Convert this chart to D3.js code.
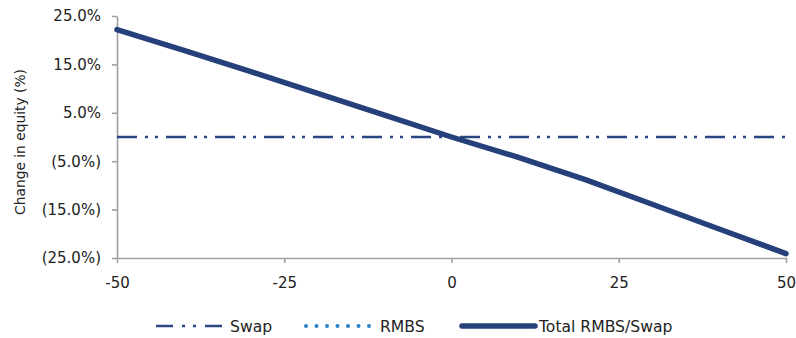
<!DOCTYPE html>
<html lang="en">
<head>
<meta charset="UTF-8" />
<title>Change in equity</title>
<script src="https://d3js.org/d3.v7.min.js"></script>
<style>
  body { margin: 0; background: #fff; }
  text { font-family: "DejaVu Sans", sans-serif; fill: #222; }
</style>
</head>
<body>
<div id="chart"></div>
<script>
var w = 796;
var h = 338;

// rate shock (bp) and change in equity (%)
var shocks = [-50, -40, -30, -20, -10, 0, 10, 20, 30, 40, 50];
var swap = [0, 0, 0, 0, 0, 0, 0, 0, 0, 0, 0];
var rmbs = [22.2, 17.9, 13.5, 9.0, 4.5, 0, -4.2, -8.8, -13.9, -19.0, -24.1];
var total = [22.2, 17.9, 13.5, 9.0, 4.5, 0, -4.2, -8.8, -13.9, -19.0, -24.1];

var xTicks = [-50, -25, 0, 25, 50];
var yTicks = [25, 15, 5, -5, -15, -25];
var seriesNames = ["Swap", "RMBS", "Total RMBS/Swap"];

var svg = d3.select("#chart").append("svg")
    .attr("width", w)
    .attr("height", h);

var xScale = d3.scaleLinear().domain([-50, 50]).range([117, 786]);
var yScale = d3.scaleLinear().domain([-25, 25]).range([258, 16]);

var pctFormat = function (d) {
    var s = Math.abs(d).toFixed(1) + "%";
    return d < 0 ? "(" + s + ")" : s;
};

// axes
var yAxis = svg.append("g")
    .attr("transform", "translate(117,0)")
    .call(d3.axisLeft(yScale).tickValues(yTicks).tickFormat(pctFormat)
        .tickSizeInner(5).tickSizeOuter(0).tickPadding(11));

var xAxis = svg.append("g")
    .attr("transform", "translate(0,258)")
    .call(d3.axisBottom(xScale).tickValues(xTicks).tickFormat(d3.format("d"))
        .tickSizeInner(5).tickSizeOuter(0).tickPadding(14));

[xAxis, yAxis].forEach(function (g) {
    g.select(".domain").attr("stroke", "#a0a0a0").attr("stroke-width", 1.6);
    g.selectAll(".tick line").attr("stroke", "#a0a0a0").attr("stroke-width", 1.6);
    g.selectAll(".tick text").style("font-size", "15px").style("fill", "#222")
        .style("font-family", "DejaVu Sans, sans-serif");
});
xAxis.selectAll(".tick text").text(function (d) { return d; });

svg.append("text")
    .attr("transform", "translate(25,142) rotate(-90)")
    .attr("text-anchor", "middle")
    .style("font-size", "13.8px")
    .text("Change in equity (%)");

// series
var line = d3.line()
    .x(function (d, i) { return xScale(shocks[i]); })
    .y(function (d) { return yScale(d); });

var styles = [
    { color: "#2b4680", width: 2.6, dash: "20,8,3,7,3,8", cap: "butt" },
    { color: "#2a80c4", width: 4, dash: "0,10.5", cap: "round" },
    { color: "#26407b", width: 5.5, dash: null, cap: "round" }
];

[swap, rmbs, total].forEach(function (vals, i) {
    svg.append("path")
        .attr("d", line(vals))
        .attr("fill", "none")
        .attr("stroke", styles[i].color)
        .attr("stroke-width", styles[i].width)
        .attr("stroke-dasharray", styles[i].dash)
        .attr("stroke-linecap", styles[i].cap)
        .attr("stroke-linejoin", "round");
});

// legend
var legendX = [156, 306, 462];
var legend = svg.append("g").attr("transform", "translate(0,326)");
seriesNames.forEach(function (name, i) {
    var sampleLen = i === 2 ? 73 : 67;
    legend.append("line")
        .attr("x1", legendX[i])
        .attr("x2", legendX[i] + sampleLen)
        .attr("y1", 0).attr("y2", 0)
        .attr("stroke", styles[i].color)
        .attr("stroke-width", styles[i].width)
        .attr("stroke-dasharray", i === 0 ? "17,9,3,8,3,9" : styles[i].dash)
        .attr("stroke-linecap", styles[i].cap);
    legend.append("text")
        .attr("x", legendX[i] + sampleLen + (i === 2 ? 4 : 7))
        .attr("y", 0)
        .attr("dy", "0.36em")
        .style("font-size", "15.6px")
        .text(name);
});
</script>
</body>
</html>
